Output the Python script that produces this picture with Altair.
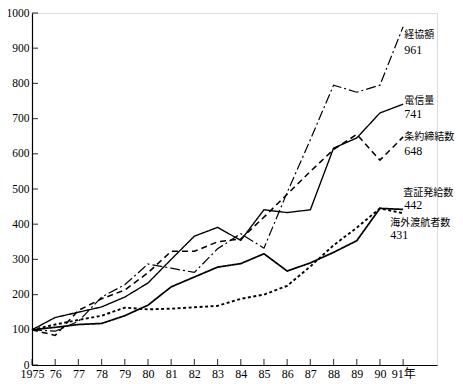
import altair as alt
import pandas as pd

years = list(range(1975, 1992))
keikyo = [100, 96, 124, 193, 228, 287, 275, 263, 330, 373, 332, 490, 640, 795, 775, 795, 961]
denshin = [100, 135, 150, 165, 193, 233, 300, 366, 391, 354, 441, 433, 441, 616, 645, 716, 741]
joyaku = [100, 84, 155, 188, 213, 262, 323, 323, 350, 358, 420, 485, 550, 612, 655, 582, 648]
sasho = [100, 107, 115, 118, 140, 170, 222, 250, 278, 288, 316, 267, 290, 320, 353, 445, 442]
toko = [100, 115, 128, 140, 163, 158, 160, 164, 168, 188, 200, 225, 280, 340, 390, 445, 431]

series_names = ["経協額", "電信量", "条約締結数", "査証発給数", "海外渡航者数"]
series_values = [keikyo, denshin, joyaku, sasho, toko]
y_ticks = list(range(0, 1001, 100))

rows = []
for name, vals in zip(series_names, series_values):
    for yr, v in zip(years, vals):
        rows.append({"series": name, "year": yr, "value": v})
df = pd.DataFrame(rows)

FONT = "Liberation Serif, Noto Sans CJK JP"
W, H = 405, 352

xscale = alt.Scale(domain=[1975, 1992.46], nice=False, zero=False)
yscale = alt.Scale(domain=[0, 1000], nice=False)

label_expr = ("datum.value == 1975 ? '1975' : datum.value == 1991 ? '91年' : "
              "slice(toString(datum.value), 2)")

xaxis = alt.Axis(values=years, labelExpr=label_expr, title=None, ticks=False,
                 grid=False, labelPadding=3, labelFontSize=12,
                 labelFont=FONT, labelColor="black", domainColor="black",
                 domainWidth=1.2, labelFlush=False, labelOverlap=False,
                 labelBound=False)
yaxis = alt.Axis(values=y_ticks, format="d", title=None, ticks=False, grid=False,
                 labelPadding=3, labelFontSize=11.5, labelFont=FONT,
                 labelColor="black", domainColor="black", domainWidth=1.2,
                 labelFlush=False, labelOverlap=False, labelBound=False)

lines = alt.Chart(df).mark_line(color="black").encode(
    x=alt.X("year:Q", scale=xscale, axis=xaxis),
    y=alt.Y("value:Q", scale=yscale, axis=yaxis),
    detail="series:N",
    strokeDash=alt.StrokeDash("series:N", legend=None,
                              scale=alt.Scale(domain=series_names,
                                              range=[[10, 3, 2, 3], [1, 0], [6, 4], [1, 0], [3, 2.5]])),
    strokeWidth=alt.StrokeWidth("series:N", legend=None,
                                scale=alt.Scale(domain=series_names,
                                                range=[1.2, 1.9, 1.2, 1.1, 1.1])),
)

ytick_df = pd.DataFrame({"year": [1975] * len(y_ticks), "value": y_ticks})
yticks = alt.Chart(ytick_df).mark_tick(color="black", thickness=1.2, size=6,
                                       orient="horizontal", xOffset=3).encode(
    y=alt.Y("value:Q", scale=yscale, axis=yaxis),
    x=alt.X("year:Q", scale=xscale, axis=xaxis),
)
xtick_df = pd.DataFrame({"year": years, "value": [0] * len(years)})
xticks = alt.Chart(xtick_df).mark_tick(color="black", thickness=1.2, size=6,
                                       orient="vertical", yOffset=-3).encode(
    x=alt.X("year:Q", scale=xscale, axis=xaxis),
    y=alt.Y("value:Q", scale=yscale, axis=yaxis),
)

# label offsets (style) for annotation text, anchored at each series' last point
label_style = {
    "経協額": [(1, 8), (1, 23)],
    "電信量": [(1, -3), (1, 10)],
    "条約締結数": [(1, 0), (1, 14)],
    "査証発給数": [(0, -16), (1, -4)],
    "海外渡航者数": [(-13, 10), (-13, 22)],
}

texts = []
for name, vals in zip(series_names, series_values):
    end_df = pd.DataFrame({"year": [years[-1]], "value": [vals[-1]],
                           "name": [name], "num": [str(vals[-1])]})
    (ndx, ndy), (vdx, vdy) = label_style[name]
    for field, dx, dy, fs in (("name", ndx, ndy, 10), ("num", vdx, vdy, 12)):
        texts.append(
            alt.Chart(end_df).mark_text(align="left", baseline="middle", dx=dx, dy=dy,
                                        font=FONT, fontSize=fs, color="black").encode(
                x=alt.X("year:Q", scale=xscale, axis=xaxis),
                y=alt.Y("value:Q", scale=yscale, axis=yaxis),
                text=f"{field}:N",
            )
        )

chart = alt.layer(lines, yticks, xticks, *texts).properties(
    width=W, height=H,
    autosize=alt.AutoSizeParams(type="none"),
    padding={"left": 24, "top": 5, "right": 18, "bottom": 17},
).configure_view(stroke=None, clip=False).configure(background="white")

chart.save("out.html", embed_options={"renderer": "svg", "actions": False})
